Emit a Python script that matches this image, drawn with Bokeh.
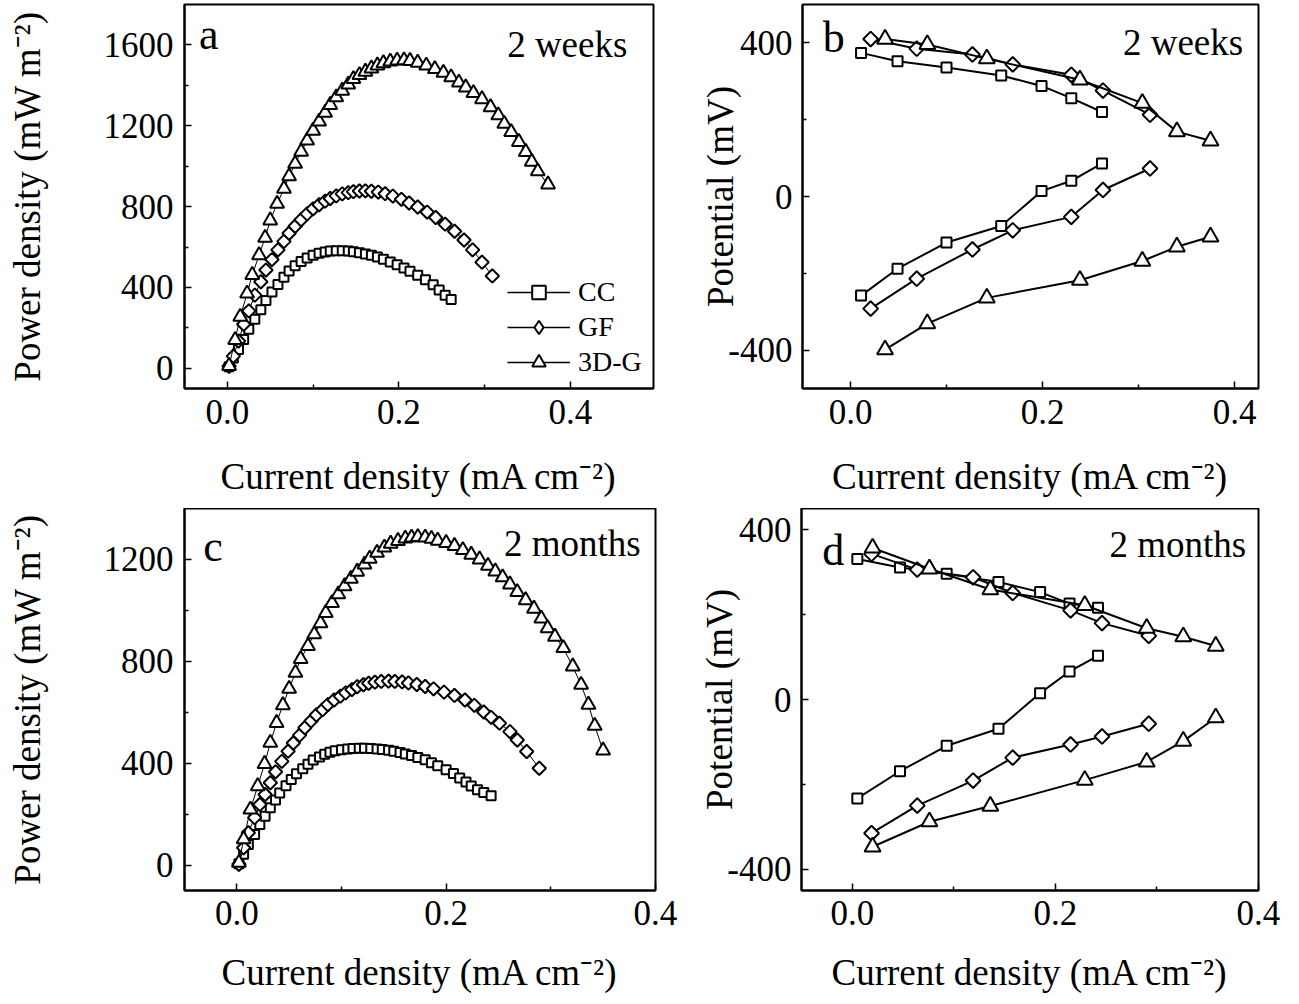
import numpy as np
from bokeh.plotting import figure
from bokeh.layouts import row, column
from bokeh.models import (Range1d, FixedTicker, PrintfTickFormatter, Label,
                          Legend, LegendItem)
from bokeh.embed import file_html
from bokeh.resources import INLINE

# ---------------- data: panel a (power density, 2 weeks) ----------------
a_cc_x = [0.002, 0.007, 0.013, 0.019, 0.025, 0.032, 0.039, 0.045, 0.052, 0.059,
          0.066, 0.072, 0.079, 0.086, 0.093, 0.100, 0.107, 0.114, 0.120, 0.127,
          0.134, 0.141, 0.147, 0.154, 0.161, 0.168, 0.175, 0.182, 0.190, 0.198,
          0.206, 0.213, 0.222, 0.231, 0.240, 0.247, 0.254, 0.261]
a_cc_y = [8, 51, 93, 143, 193, 243, 290, 335, 378, 414,
          450, 481, 507, 528, 546, 559, 569, 575, 580, 582,
          582, 580, 577, 572, 566, 559, 551, 539, 526, 512,
          496, 480, 460, 438, 413, 387, 361, 340]
a_gf_x = [0.002, 0.007, 0.013, 0.019, 0.025, 0.032, 0.039, 0.045, 0.052, 0.059,
          0.066, 0.072, 0.079, 0.086, 0.093, 0.100, 0.107, 0.114, 0.120, 0.127,
          0.134, 0.141, 0.147, 0.154, 0.161, 0.168, 0.176, 0.184, 0.193, 0.203,
          0.212, 0.222, 0.233, 0.243, 0.254, 0.265, 0.276, 0.286, 0.297, 0.309]
a_gf_y = [10, 60, 135, 218, 284, 362, 428, 486, 538, 586,
          628, 668, 703, 735, 764, 789, 809, 827, 840, 853,
          863, 869, 874, 877, 878, 876, 872, 864, 852, 836,
          818, 798, 773, 746, 713, 678, 635, 586, 525, 457]
a_3d_x = [0.002, 0.009, 0.015, 0.023, 0.029, 0.037, 0.044, 0.050, 0.058, 0.066,
          0.072, 0.079, 0.086, 0.093, 0.100, 0.107, 0.114, 0.120, 0.127, 0.134,
          0.141, 0.147, 0.154, 0.161, 0.168, 0.175, 0.182, 0.190, 0.198, 0.206,
          0.213, 0.222, 0.232, 0.242, 0.252, 0.261, 0.270, 0.278, 0.287, 0.297,
          0.307, 0.316, 0.323, 0.331, 0.340, 0.348, 0.355, 0.362, 0.374]
a_3d_y = [12, 140, 255, 370, 462, 560, 646, 732, 814, 888,
          950, 1012, 1072, 1127, 1176, 1221, 1264, 1303, 1341, 1374,
          1404, 1431, 1451, 1468, 1484, 1499, 1510, 1518, 1523, 1524,
          1521, 1512, 1498, 1481, 1462, 1440, 1414, 1390, 1362, 1332,
          1292, 1252, 1210, 1169, 1120, 1071, 1022, 975, 910]

# ---------------- data: panel b (electrode potentials, 2 weeks) ----------------
b_cc_x = [0.011, 0.049, 0.100, 0.157, 0.199, 0.230, 0.262]
b_cc_cat = [374, 352, 336, 315, 288, 256, 220]
b_cc_an = [-258, -188, -120, -77, 14, 41, 86]
b_gf_x = [0.021, 0.069, 0.127, 0.169, 0.230, 0.263, 0.312]
b_gf_cat = [410, 385, 370, 344, 317, 276, 213]
b_gf_an = [-292, -214, -138, -88, -53, 17, 73]
b_3d_x = [0.036, 0.080, 0.142, 0.239, 0.304, 0.340, 0.375]
b_3d_cat = [410, 396, 359, 304, 243, 169, 145]
b_3d_an = [-399, -331, -264, -218, -168, -131, -105]

# ---------------- data: panel c (power density, 2 months) ----------------
c_cc_x = [0.002, 0.0065, 0.011, 0.017, 0.022, 0.027, 0.032, 0.037, 0.041, 0.047,
          0.052, 0.057, 0.063, 0.068, 0.073, 0.079, 0.084, 0.089, 0.094, 0.100,
          0.106, 0.111, 0.117, 0.122, 0.128, 0.134, 0.139, 0.145, 0.150, 0.156,
          0.161, 0.167, 0.173, 0.180, 0.186, 0.192, 0.200, 0.207, 0.213, 0.219,
          0.224, 0.230, 0.236, 0.243]
c_cc_y = [5, 42, 81, 120, 159, 192, 225, 255, 283, 311,
          336, 358, 378, 396, 412, 424, 435, 443, 449, 453,
          456, 458, 459, 459, 458, 456, 454, 451, 447, 442,
          436, 430, 422, 413, 402, 390, 374, 359, 342, 326,
          310, 296, 285, 272]
c_gf_x = [0.002, 0.0065, 0.011, 0.017, 0.022, 0.027, 0.032, 0.037, 0.043, 0.049,
          0.054, 0.060, 0.065, 0.071, 0.076, 0.082, 0.087, 0.093, 0.099, 0.104,
          0.110, 0.115, 0.121, 0.126, 0.132, 0.138, 0.145, 0.151, 0.158, 0.164,
          0.172, 0.180, 0.188, 0.198, 0.208, 0.218, 0.227, 0.236, 0.243, 0.251,
          0.261, 0.268, 0.277, 0.289]
c_gf_y = [3, 68, 127, 186, 238, 277, 323, 366, 407, 447,
          479, 510, 539, 566, 589, 610, 630, 648, 663, 676,
          689, 700, 708, 714, 718, 721, 722, 721, 719, 715,
          709, 701, 692, 679, 666, 648, 627, 601, 580, 557,
          524, 491, 446, 380]
c_3d_x = [0.002, 0.0065, 0.013, 0.020, 0.0265, 0.032, 0.038, 0.044, 0.050, 0.056,
          0.061, 0.068, 0.074, 0.080, 0.085, 0.091, 0.097, 0.103, 0.109, 0.115,
          0.122, 0.127, 0.134, 0.141, 0.147, 0.154, 0.161, 0.167, 0.173, 0.180,
          0.186, 0.192, 0.200, 0.208, 0.216, 0.224, 0.232, 0.240, 0.247, 0.254,
          0.261, 0.268, 0.276, 0.284, 0.291, 0.297, 0.304, 0.312, 0.321, 0.329,
          0.336, 0.342, 0.350]
c_3d_y = [9, 101, 218, 310, 397, 480, 558, 628, 692, 755,
          809, 860, 906, 950, 990, 1029, 1063, 1095, 1124, 1152,
          1180, 1203, 1226, 1247, 1262, 1273, 1282, 1286, 1288, 1286,
          1281, 1274, 1265, 1253, 1237, 1219, 1200, 1175, 1153, 1130,
          1102, 1072, 1040, 1007, 968, 930, 897, 852, 780, 708,
          630, 547, 450]

# ---------------- data: panel d (electrode potentials, 2 months) ----------------
d_cc_x = [0.005, 0.047, 0.093, 0.144, 0.185, 0.214, 0.242]
d_cc_cat = [331, 311, 296, 277, 253, 226, 216]
d_cc_an = [-233, -169, -109, -69, 15, 66, 103]
d_gf_x = [0.019, 0.064, 0.119, 0.158, 0.215, 0.246, 0.292]
d_gf_cat = [343, 306, 288, 251, 210, 180, 150]
d_gf_an = [-315, -250, -191, -137, -106, -87, -57]
d_3d_x = [0.020, 0.076, 0.136, 0.229, 0.290, 0.326, 0.358]
d_3d_cat = [357, 308, 259, 222, 168, 148, 126]
d_3d_an = [-347, -288, -251, -190, -147, -98, -43]

series_names = ["CC", "GF", "3D-G"]
x_ticks = [0, 0.2, 0.4]
x_minor = [0.1, 0.3]
x_title = "Current density (mA cm\u207b\u00b2)"
pd_title = "Power density (mW m\u207b\u00b2)"
pot_title = "Potential (mV)"

FONT = "Liberation Serif"
MARK_AC = {"CC": dict(marker="square", size=9, angle=0.0),
           "GF": dict(marker="square", size=9.5, angle=np.pi / 4),
           "3D-G": dict(marker="triangle", size=14, angle=0.0)}
MARK_BD = {"CC": dict(marker="square", size=10, angle=0.0),
           "GF": dict(marker="square", size=10.5, angle=np.pi / 4),
           "3D-G": dict(marker="triangle", size=16, angle=0.0)}
MARK_LEG = {"CC": dict(marker="square", size=8, angle=0.0),
            "GF": dict(marker="diamond", size=13, angle=0.0),
            "3D-G": dict(marker="triangle", size=12, angle=0.0)}


def make_fig(xr, yr, yticks, yminor, ytitle, width, height, bl, br, bt, bb,
             ylab_standoff, ylab_major_standoff, xlab_major, xlab_title):
    p = figure(width=width, height=height, x_range=Range1d(*xr),
               y_range=Range1d(*yr), output_backend="svg",
               toolbar_location=None, min_border_left=bl, min_border_right=br,
               min_border_top=bt, min_border_bottom=bb)
    p.xgrid.visible = False
    p.ygrid.visible = False
    p.background_fill_color = "white"
    p.border_fill_color = "white"
    p.outline_line_color = "black"
    p.outline_line_width = 2
    p.outline_line_alpha = 1.0
    for ax in (p.xaxis[0], p.yaxis[0]):
        ax.axis_line_width = 2
        ax.axis_line_color = "black"
        ax.major_tick_in = 7
        ax.major_tick_out = 0
        ax.minor_tick_in = 4
        ax.minor_tick_out = 0
        ax.major_tick_line_width = 1.5
        ax.minor_tick_line_width = 1.5
        ax.major_tick_line_color = "black"
        ax.minor_tick_line_color = "black"
        ax.major_label_text_font = FONT
        ax.major_label_text_font_size = "35px"
        ax.major_label_text_color = "black"
        ax.axis_label_text_font = FONT
        ax.axis_label_text_font_size = "37px"
        ax.axis_label_text_font_style = "normal"
        ax.axis_label_text_color = "black"
    p.xaxis[0].ticker = FixedTicker(ticks=x_ticks, minor_ticks=x_minor)
    p.xaxis[0].formatter = PrintfTickFormatter(format="%.1f")
    p.xaxis[0].axis_label = x_title
    p.xaxis[0].major_label_standoff = xlab_major
    p.xaxis[0].axis_label_standoff = xlab_title
    p.yaxis[0].ticker = FixedTicker(ticks=yticks, minor_ticks=yminor)
    p.yaxis[0].formatter = PrintfTickFormatter(format="%d")
    p.yaxis[0].axis_label = ytitle
    p.yaxis[0].major_label_standoff = ylab_major_standoff
    p.yaxis[0].axis_label_standoff = ylab_standoff
    return p


def add_series(p, x, y, name, lw, marks):
    ln = p.line(x, y, line_color="black", line_width=lw)
    m = marks[name]
    sc = p.scatter(x, y, marker=m["marker"], size=m["size"], angle=m["angle"],
                   line_color="black", line_width=2, fill_color="white")
    return ln, sc


def add_text(p, x, y, text, size, align, yoff):
    p.add_layout(Label(x=x, y=y, text=text, text_font=FONT,
                       text_font_size=size, text_align=align, y_offset=yoff,
                       text_baseline="alphabetic", text_color="black"))


# ---------------- panel a ----------------
pa = make_fig((-0.05, 0.497), (-100, 1800), [0, 400, 800, 1200, 1600],
              [200, 600, 1000, 1400], pd_title, 693, 508, 184, 40, 4, 120,
              53, 11, 11, 29)
for xs, ys, nm in [(a_cc_x, a_cc_y, "CC"), (a_gf_x, a_gf_y, "GF"),
                   (a_3d_x, a_3d_y, "3D-G")]:
    add_series(pa, xs, ys, nm, 1, MARK_AC)
# legend samples (empty renderers, only used for the key)
leg_items = []
for nm in series_names:
    lr, sr = add_series(pa, [np.nan], [np.nan], nm, 1.5, MARK_LEG)
    leg_items.append(LegendItem(label=nm, renderers=[lr, sr]))
legend = Legend(items=leg_items,
                location=(323, 9), glyph_width=63, glyph_height=34,
                label_height=34, spacing=1, padding=0, margin=0,
                label_standoff=8, label_text_font=FONT,
                label_text_font_size="28px", label_text_color="black",
                border_line_alpha=0, background_fill_alpha=0)
pa.add_layout(legend)
add_text(pa, -0.033, 1595, "a", "44px", "left", 11)
add_text(pa, 0.4665, 1545, "2 weeks", "37px", "right", 12)

# ---------------- panel b ----------------
pb = make_fig((-0.05, 0.425), (-500, 500), [-400, 0, 400], [-200, 200],
              pot_title, 601, 508, 109, 36, 4, 120, -16, 10, 11, 29)
for xs, cat, an, nm in [(b_cc_x, b_cc_cat, b_cc_an, "CC"),
                        (b_gf_x, b_gf_cat, b_gf_an, "GF"),
                        (b_3d_x, b_3d_cat, b_3d_an, "3D-G")]:
    add_series(pb, xs, cat, nm, 2, MARK_BD)
    add_series(pb, xs, an, nm, 2, MARK_BD)
add_text(pb, -0.029, 378, "b", "44px", "left", 14)
add_text(pb, 0.409, 370, "2 weeks", "37px", "right", 12)

# ---------------- panel c ----------------
pc = make_fig((-0.05, 0.4001), (-100, 1400), [0, 400, 800, 1200],
              [200, 600, 1000], pd_title, 695, 496, 184, 40, 0, 114,
              53, 11, 10, 24)
for xs, ys, nm in [(c_cc_x, c_cc_y, "CC"), (c_gf_x, c_gf_y, "GF"),
                   (c_3d_x, c_3d_y, "3D-G")]:
    add_series(pc, xs, ys, nm, 1, MARK_AC)
add_text(pc, -0.032, 1205, "c", "44px", "left", 12)
add_text(pc, 0.386, 1217, "2 months", "37px", "right", 12)

# ---------------- panel d ----------------
pdd = make_fig((-0.05, 0.4001), (-450, 450), [-400, 0, 400], [-200, 200],
               pot_title, 599, 496, 106, 36, 0, 114, -16, 10, 10, 24)
for xs, cat, an, nm in [(d_cc_x, d_cc_cat, d_cc_an, "CC"),
                        (d_gf_x, d_gf_cat, d_gf_an, "GF"),
                        (d_3d_x, d_3d_cat, d_3d_an, "3D-G")]:
    add_series(pdd, xs, cat, nm, 2, MARK_BD)
    add_series(pdd, xs, an, nm, 2, MARK_BD)
add_text(pdd, -0.0296, 318, "d", "44px", "left", 14)
add_text(pdd, 0.388, 337, "2 months", "37px", "right", 12)

layout = column(row(pa, pb), row(pc, pdd))
open("out.html", "w").write(file_html(layout, INLINE))
